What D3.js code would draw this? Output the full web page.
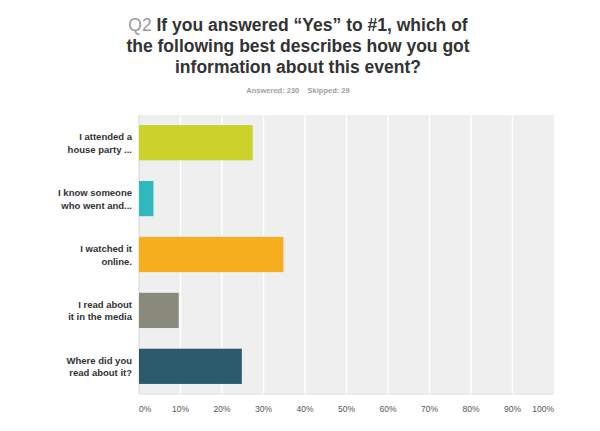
<!DOCTYPE html>
<html>
<head>
<meta charset="utf-8">
<script src="https://cdn.jsdelivr.net/npm/d3@7"></script>
<style>
body { margin: 0; background: #fff; }
</style>
</head>
<body>
<script>
// answer choices, each label split in two lines
var categories = ["I attended a|house party ...", "I know someone|who went and...", "I watched it|online.", "I read about|it in the media", "Where did you|read about it?"];
var values = [27.39, 3.48, 34.78, 9.57, 24.78];
var colours = ["#cbd32b", "#2fb8bd", "#f7ae1e", "#898a7b", "#2b5b6b"];
var ticks = [0, 10, 20, 30, 40, 50, 60, 70, 80, 90, 100];
var titleLines = ["If you answered \u201cYes\u201d to #1, which of", "the following best describes how you got", "information about this event?"];

var w = 600;
var h = 431;
// plot box (window.top is taken, so prefix)
var pLeft = 139, pRight = 554, pTop = 115, pBottom = 394;

var svg = d3.select("body")
	.append("svg")
	.attr("width", w)
	.attr("height", h);

var x = d3.scaleLinear().domain([0, 100]).range([pLeft, pRight]);
var y = d3.scaleBand().domain(categories).range([pTop, pBottom]).paddingInner(0.37).paddingOuter(0.18);

// title
var title = svg.append("text")
	.attr("text-anchor", "middle")
	.attr("font-family", "Liberation Sans, Arial, sans-serif")
	.attr("font-weight", "bold")
	.attr("font-size", 17.5)
	.attr("fill", "#333");
titleLines.forEach(function(t, i){
	var line = title.append("tspan")
		.attr("x", 298)
		.attr("y", 31 + i * 21);
	if (i == 0) {
		line.append("tspan").attr("fill", "#9a9a9a").attr("font-weight", "normal").text("Q2 ");
	}
	line.append("tspan").text(t);
});

svg.append("text")
	.attr("x", 298)
	.attr("y", 93)
	.attr("text-anchor", "middle")
	.attr("font-family", "Liberation Sans, Arial, sans-serif")
	.attr("font-size", 7.5)
	.attr("font-weight", "bold")
	.attr("fill", "#a0a0a0")
	.attr("xml:space", "preserve")
	.text("Answered: 230    Skipped: 29");

// plot background and grid
svg.append("rect")
	.attr("x", pLeft)
	.attr("y", pTop)
	.attr("width", pRight - pLeft)
	.attr("height", pBottom - pTop)
	.attr("fill", "#efefef");

svg.selectAll("line.grid")
	.data(ticks.slice(1, -1))
	.enter()
	.append("line")
	.attr("class", "grid")
	.attr("x1", function(d){return x(d);})
	.attr("x2", function(d){return x(d);})
	.attr("y1", pTop)
	.attr("y2", pBottom)
	.attr("stroke", "#fff")
	.attr("stroke-width", 1.5);

svg.append("line")
	.attr("x1", pLeft).attr("x2", pLeft)
	.attr("y1", pTop).attr("y2", pBottom)
	.attr("stroke", "#d8d8d8");
svg.append("line")
	.attr("x1", pLeft).attr("x2", pRight)
	.attr("y1", pBottom).attr("y2", pBottom)
	.attr("stroke", "#e0e0e0");

// bars
svg.selectAll("rect.bar")
	.data(values)
	.enter()
	.append("rect")
	.attr("class", "bar")
	.attr("x", x(0))
	.attr("y", function(d, i){return y(categories[i]);})
	.attr("width", function(d){return x(d) - x(0);})
	.attr("height", y.bandwidth())
	.attr("fill", function(d, i){return colours[i];});

// category labels
var labels = svg.selectAll("text.cat")
	.data(categories)
	.enter()
	.append("text")
	.attr("class", "cat")
	.attr("text-anchor", "end")
	.attr("font-family", "Liberation Sans, Arial, sans-serif")
	.attr("font-size", 9.5)
	.attr("font-weight", "bold")
	.attr("fill", "#333");
labels.selectAll("tspan")
	.data(function(d){return d.split("|").map(function(t, j){return {t: t, j: j, c: d};});})
	.enter()
	.append("tspan")
	.attr("x", 132)
	.attr("y", function(d){return y(d.c) + y.bandwidth() / 2 - 2.5 + d.j * 12.5;})
	.text(function(d){return d.t;});

// x tick labels
svg.selectAll("text.tick")
	.data(ticks)
	.enter()
	.append("text")
	.attr("class", "tick")
	.attr("x", function(d){return x(d);})
	.attr("y", 412)
	.attr("text-anchor", function(d){return d == 0 ? "start" : (d == 100 ? "end" : "middle");})
	.attr("font-family", "Liberation Sans, Arial, sans-serif")
	.attr("font-size", 8.5)
	.attr("fill", "#555")
	.text(function(d){return d + "%";});
</script>
</body>
</html>
